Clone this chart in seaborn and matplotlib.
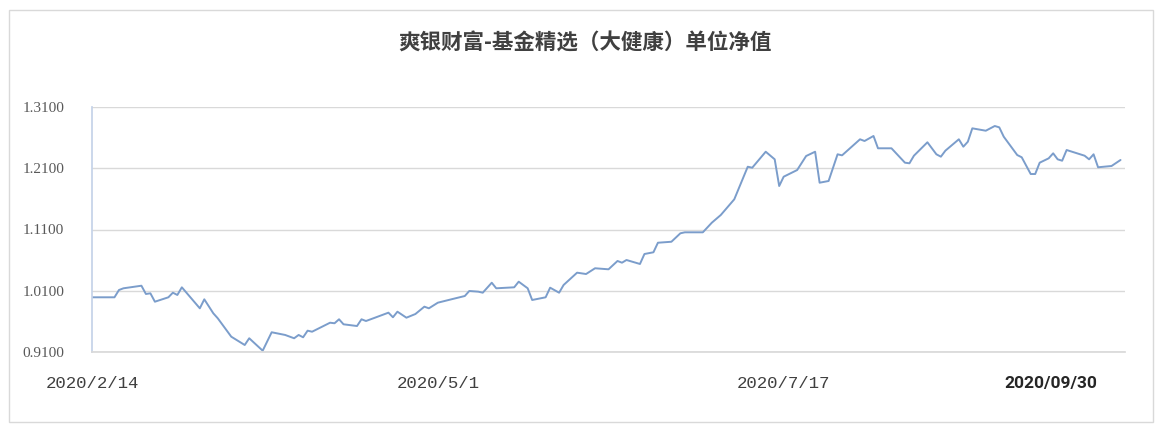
import matplotlib
matplotlib.use("Agg")
import matplotlib.pyplot as plt
from matplotlib.patches import Rectangle
import numpy as np
import pandas as pd
import seaborn as sns

TITLE = "爽银财富-基金精选（大健康）单位净值"
START = "2020-02-14"
X_TICKS = ["2020-02-14", "2020-05-01", "2020-07-17"]
X_LABELS = ["2020/2/14", "2020/5/1", "2020/7/17"]
END_LABEL = "2020/09/30"
Y_TICKS = [0.91, 1.01, 1.11, 1.21, 1.31]

# days since 2020-02-14 and unit net value
days = [0, 5, 6, 7, 11, 12, 13, 14, 17, 18, 19, 20, 24, 25, 27, 28, 31, 34, 35, 38,
        40, 43, 45, 46, 47, 48, 49, 53, 54, 55, 56, 59, 60, 61, 63, 66, 67, 68, 70, 72,
        74, 75, 77, 80, 83, 84, 86, 87, 89, 90, 94, 95, 97, 98, 101, 102, 104, 105, 108, 110,
        112, 115, 117, 118, 119, 122, 123, 125, 126, 129, 131, 132, 136, 138, 140, 143, 146, 147, 150, 152,
        153, 154, 157, 159, 161, 162, 164, 166, 167, 169, 171, 172, 174, 175, 178, 181, 182, 183, 186, 188,
        189, 190, 193, 194, 195, 196, 199, 201, 202, 203, 206, 207, 209, 210, 211, 213, 214, 215, 216, 217,
        221, 222, 223, 224, 227, 229]
nav = [0.9993, 0.9993, 1.0112, 1.0140, 1.0182, 1.0047, 1.0058, 0.9921, 0.9993, 1.0068,
       1.0031, 1.0156, 0.9813, 0.9960, 0.9732, 0.9650, 0.9350, 0.9214, 0.9324, 0.9121,
       0.9422, 0.9378, 0.9324, 0.9378, 0.9340, 0.9448, 0.9431, 0.9578, 0.9569, 0.9634,
       0.9552, 0.9524, 0.9634, 0.9606, 0.9660, 0.9742, 0.9667, 0.9758, 0.9660, 0.9720,
       0.9840, 0.9813, 0.9905, 0.9960, 1.0014, 1.0096, 1.0085, 1.0068, 1.0231, 1.0140,
       1.0156, 1.0248, 1.0140, 0.9949, 0.9993, 1.0150, 1.0068, 1.0194, 1.0395, 1.0373,
       1.0467, 1.0450, 1.0586, 1.0558, 1.0602, 1.0537, 1.0700, 1.0728, 1.0884, 1.0900,
       1.1038, 1.1054, 1.1054, 1.1211, 1.1337, 1.1593, 1.2125, 1.2109, 1.2370, 1.2246,
       1.1810, 1.1962, 1.2071, 1.2300, 1.2370, 1.1864, 1.1892, 1.2328, 1.2311, 1.2442,
       1.2573, 1.2545, 1.2627, 1.2426, 1.2426, 1.2191, 1.2181, 1.2305, 1.2524, 1.2328,
       1.2289, 1.2387, 1.2573, 1.2452, 1.2533, 1.2752, 1.2713, 1.2790, 1.2768, 1.2615,
       1.2316, 1.2279, 1.2006, 1.2006, 1.2191, 1.2262, 1.2344, 1.2246, 1.2223, 1.2398,
       1.2305, 1.2246, 1.2328, 1.2116, 1.2137, 1.2235]


def main():
    start = pd.Timestamp(START)
    df = pd.DataFrame({"date": start + pd.to_timedelta(days, unit="D"), "nav": nav})

    sns.set_theme(style="white")
    plt.rcParams["font.family"] = ["Noto Sans CJK SC", "DejaVu Sans"]

    fig = plt.figure(figsize=(11.56, 4.25), dpi=100)
    ax = fig.add_axes([0.0796, 0.1718, 0.8936, 0.5764])

    sns.lineplot(data=df, x="date", y="nav", ax=ax, color="#7b9dcb", linewidth=1.4)

    ax.set_xlim(start, start + pd.Timedelta(days=230))
    ax.set_ylim(Y_TICKS[0], Y_TICKS[-1])
    ax.set_yticks(Y_TICKS)
    ax.set_yticklabels([f"{v:.4f}" for v in Y_TICKS], family="Liberation Serif",
                       fontsize=11, color="#595959")
    ax.set_xticks(pd.to_datetime(X_TICKS))
    ax.set_xticklabels(X_LABELS, family="Liberation Mono", fontsize=12.5, color="#404040")
    ax.tick_params(axis="y", length=0, pad=20)
    ax.tick_params(axis="x", length=5, width=1, color="#d9d9d9", pad=12)

    ax.grid(axis="y", color="#d9d9d9", linewidth=1)
    ax.grid(axis="x", visible=False)
    for side in ["top", "right"]:
        ax.spines[side].set_visible(False)
    ax.spines["bottom"].set_color("#d9d9d9")
    ax.spines["left"].set_color("#c5d3e8")
    ax.set_xlabel("")
    ax.set_ylabel("")

    ax.annotate(END_LABEL, xy=(0.928, 0), xycoords="axes fraction",
                xytext=(0, -17), textcoords="offset points", ha="center", va="top",
                family="Roboto", fontweight="bold", fontsize=12.5, color="#262626")

    fig.text(0.506, 0.9, TITLE, ha="center", va="center", fontsize=15.5,
             fontweight="bold", color="#404040")

    fig.patches.append(Rectangle((9 / 1156, 3 / 425), 1144 / 1156, 412 / 425,
                                 transform=fig.transFigure, fill=False,
                                 edgecolor="#d9d9d9", linewidth=1))

    fig.savefig("out.png", dpi=100)


if __name__ == "__main__":
    main()
